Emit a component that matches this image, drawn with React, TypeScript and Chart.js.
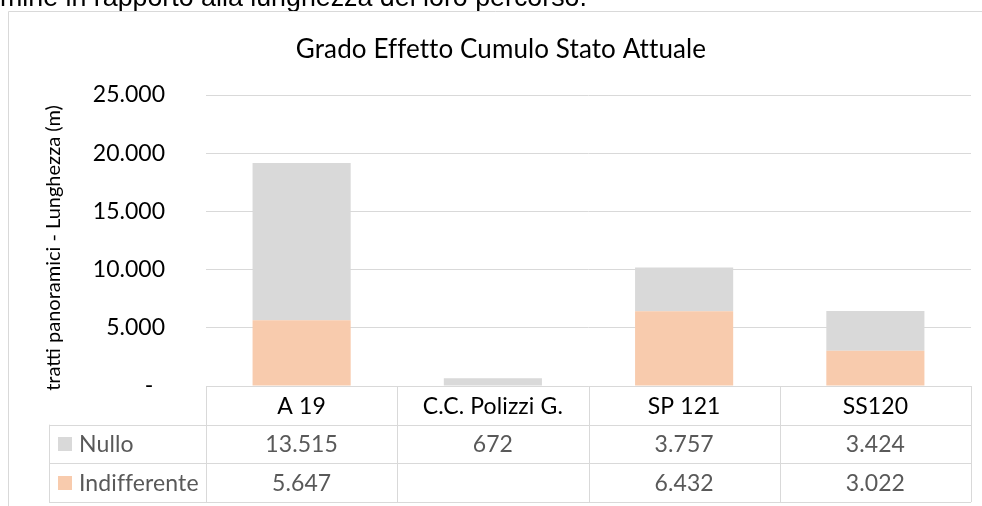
import React, { useEffect, useRef } from 'react';
import { Chart, registerables } from 'chart.js';

Chart.register(...registerables);

const categories = ['A 19', 'C.C. Polizzi G.', 'SP 121', 'SS120'];
const nulloValues: (number | null)[] = [13515, 672, 3757, 3424];
const indifferenteValues: (number | null)[] = [5647, null, 6432, 3022];
const seriesNames = ['Nullo', 'Indifferente'];
const yTickValues = [0, 5000, 10000, 15000, 20000, 25000];
const chartTitle = 'Grado Effetto Cumulo Stato Attuale';
const yAxisTitle = 'tratti panoramici - Lunghezza (m)';
const headerText = 'mine in rapporto alla lunghezza del loro percorso.';

const GRAY = '#D9D9D9';
const PEACH = '#F8CBAD';
const LINE = '#D9D9D9';
const FONT = 'Lato, "Noto Sans", sans-serif';

const fmt = (v: number | null | undefined) => {
  if (v == null) return '';
  if (v === 0) return '-';
  return String(Math.round(v)).replace(/\B(?=(\d{3})+(?!\d))/g, '.');
};

const noLig = (ctx: any) => {
  try {
    ctx.letterSpacing = '0.1px';
  } catch (e) {}
};

const decorPlugin = {
  id: 'decor',
  beforeDraw(chart: any) {
    const ctx = chart.ctx as CanvasRenderingContext2D;
    ctx.save();
    ctx.fillStyle = '#000';
    ctx.font = '26.8px "Liberation Sans", Arial, sans-serif';
    ctx.textAlign = 'left';
    ctx.textBaseline = 'alphabetic';
    ctx.fillText(headerText, 0, 6);
    ctx.strokeStyle = LINE;
    ctx.lineWidth = 1;
    ctx.beginPath();
    ctx.moveTo(8.5, 506);
    ctx.lineTo(8.5, 11.5);
    ctx.lineTo(982, 11.5);
    ctx.stroke();
    // title
    noLig(ctx);
    ctx.fillStyle = '#000';
    ctx.font = `26px ${FONT}`;
    ctx.textAlign = 'center';
    ctx.textBaseline = 'middle';
    ctx.fillText(chartTitle, 501, 50);
    ctx.restore();
  },
  afterDraw(chart: any) {
    const ctx = chart.ctx as CanvasRenderingContext2D;
    const area = chart.chartArea;
    const xs = chart.scales.x;
    const n = categories.length;
    const colW = (area.right - area.left) / n;
    const rowH = 38.7;
    const top = area.bottom;
    const rows = [top, top + rowH, top + 2 * rowH, top + 3 * rowH];
    const labelLeft = 49;
    ctx.save();
    // y axis title
    ctx.translate(54, 248);
    ctx.rotate(-Math.PI / 2);
    ctx.fillStyle = '#000';
    ctx.font = `20px ${FONT}`;
    ctx.textAlign = 'center';
    ctx.textBaseline = 'middle';
    ctx.fillText(yAxisTitle, 0, 0);
    ctx.restore();

    ctx.save();
    ctx.strokeStyle = LINE;
    ctx.lineWidth = 1;
    ctx.beginPath();
    const r = (v: number) => Math.round(v) + 0.5;
    ctx.moveTo(area.left, r(rows[0]));
    ctx.lineTo(area.right, r(rows[0]));
    for (let k = 1; k < 4; k++) {
      ctx.moveTo(labelLeft, r(rows[k]));
      ctx.lineTo(area.right, r(rows[k]));
    }
    ctx.moveTo(r(labelLeft), rows[1]);
    ctx.lineTo(r(labelLeft), rows[3]);
    for (let i = 0; i <= n; i++) {
      const x = r(area.left + i * colW);
      ctx.moveTo(x, rows[0]);
      ctx.lineTo(x, rows[3]);
    }
    ctx.stroke();

    noLig(ctx);
    ctx.textAlign = 'center';
    ctx.textBaseline = 'middle';
    ctx.font = `23px ${FONT}`;
    ctx.fillStyle = '#000';
    categories.forEach((c, i) => {
      ctx.fillText(c, xs.getPixelForValue(i), (rows[0] + rows[1]) / 2 + 1);
    });
    const series = [
      { name: seriesNames[0], color: GRAY, values: nulloValues },
      { name: seriesNames[1], color: PEACH, values: indifferenteValues },
    ];
    series.forEach((s, k) => {
      const cy = (rows[k + 1] + rows[k + 2]) / 2 + 1;
      ctx.fillStyle = s.color;
      ctx.fillRect(58, Math.round(cy - 8), 14, 14);
      ctx.fillStyle = '#595959';
      ctx.textAlign = 'left';
      ctx.fillText(s.name, 79, cy);
      ctx.textAlign = 'center';
      s.values.forEach((v, i) => {
        ctx.fillText(fmt(v), xs.getPixelForValue(i), cy);
      });
    });
    ctx.restore();
  },
};

export default function App() {
  const ref = useRef<HTMLCanvasElement>(null);
  useEffect(() => {
    if (!ref.current) return;
    const chart = new Chart(ref.current, {
      type: 'bar',
      data: {
        labels: categories,
        datasets: [
          {
            label: seriesNames[1],
            data: indifferenteValues,
            backgroundColor: PEACH,
            borderWidth: 0,
            categoryPercentage: 1,
            barPercentage: 0.513,
          },
          {
            label: seriesNames[0],
            data: nulloValues,
            backgroundColor: GRAY,
            borderWidth: 0,
            categoryPercentage: 1,
            barPercentage: 0.513,
          },
        ],
      },
      options: {
        responsive: false,
        animation: false,
        layout: { padding: { left: 8, top: 95, right: 11, bottom: 120 } },
        plugins: {
          legend: { display: false },
          title: { display: false },
          tooltip: { enabled: false },
        },
        scales: {
          x: { stacked: true, display: false },
          y: {
            stacked: true,
            min: 0,
            max: 25000,
            afterFit: (scale: any) => {
              scale.width = 198;
            },
            afterBuildTicks: (scale: any) => {
              scale.ticks = yTickValues.map((v) => ({ value: v }));
            },
            ticks: {
              padding: 41,
              color: '#000',
              font: { family: FONT, size: 23 },
              callback: (v: any) => (Number(v) === 0 ? '-  ' : fmt(Number(v))),
            },
            grid: { color: LINE, lineWidth: 1, drawTicks: false },
            border: { display: false },
          },
        },
      },
      plugins: [decorPlugin],
    });
    return () => chart.destroy();
  }, []);
  return (
    <div style={{ position: 'absolute', left: 0, top: 0, width: 982, height: 506, background: '#fff' }}>
      <canvas ref={ref} width={982} height={506} style={{ display: 'block' }} />
    </div>
  );
}
